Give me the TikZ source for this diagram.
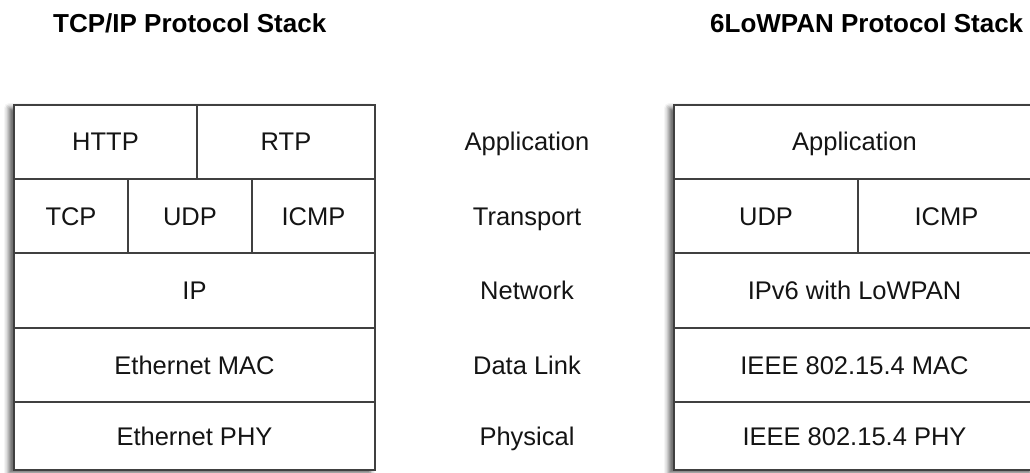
\documentclass[tikz,border=0pt]{standalone}
\usepackage{fontspec}
\setmainfont{Liberation Sans}
\usetikzlibrary{shadows.blur}
\begin{document}
\begin{tikzpicture}[x=1pt,y=-1pt,
  frame/.style={fill=white,
    blur shadow={shadow xshift=-5pt, shadow yshift=-3pt,
                 shadow blur radius=5pt, shadow opacity=65}},
  cell/.style={draw=black!75, line width=1.9pt, inner sep=0pt,
    text height=18pt, text depth=0pt, text=black!92,
    font=\fontsize{25.5}{30}\selectfont},
  layer/.style={inner sep=0pt, text height=18pt, text depth=0pt,
    text=black!92, font=\fontsize{25.5}{30}\selectfont},
  heading/.style={anchor=base west, inner sep=0pt, text=black,
    font=\bfseries\fontsize{26}{30}\selectfont}]
\useasboundingbox (0,0) rectangle (1030,473);

% stack titles
\node[heading] (tcpTitle) at (53,33) {TCP/IP Protocol Stack};
\node[heading] (lowTitle) at (710,33) {6LoWPAN Protocol Stack};

% white backing with soft shadow for both stacks
\path[frame] (14,105) rectangle (375,470);
\path[frame] (674,105) rectangle (1035,470);

% TCP/IP stack
\node[cell, minimum width=183pt, minimum height=74pt] (http) at (105.5,142) {HTTP};
\node[cell, minimum width=178pt, minimum height=74pt] (rtp)  at (286,142) {RTP};
\node[cell, minimum width=114pt, minimum height=74pt] (tcp)  at (71,216) {TCP};
\node[cell, minimum width=124pt, minimum height=74pt] (udp)  at (190,216) {UDP};
\node[cell, minimum width=123pt, minimum height=74pt] (icmp) at (313.5,216) {ICMP};
\node[cell, minimum width=361pt, minimum height=75pt] (ip)   at (194.5,290.5) {IP};
\node[cell, minimum width=361pt, minimum height=74pt] (emac) at (194.5,365) {Ethernet MAC};
\node[cell, minimum width=361pt, minimum height=68pt] (ephy) at (194.5,436) {Ethernet PHY};

% layer names
\node[layer] (lApp)  at (527,142)   {Application};
\node[layer] (lTra)  at (527,216)   {Transport};
\node[layer] (lNet)  at (527,290.5) {Network};
\node[layer] (lLink) at (527,365)   {Data Link};
\node[layer] (lPhy)  at (527,436)   {Physical};

% 6LoWPAN stack
\node[cell, minimum width=361pt, minimum height=74pt] (app6)  at (854.5,142) {Application};
\node[cell, minimum width=184pt, minimum height=74pt] (udp6)  at (766,216) {UDP};
\node[cell, minimum width=177pt, minimum height=74pt] (icmp6) at (946.5,216) {ICMP};
\node[cell, minimum width=361pt, minimum height=75pt] (ip6)   at (854.5,290.5) {IPv6 with LoWPAN};
\node[cell, minimum width=361pt, minimum height=74pt] (mac6)  at (854.5,365) {IEEE 802.15.4 MAC};
\node[cell, minimum width=361pt, minimum height=68pt] (phy6)  at (854.5,436) {IEEE 802.15.4 PHY};
\end{tikzpicture}
\end{document}
